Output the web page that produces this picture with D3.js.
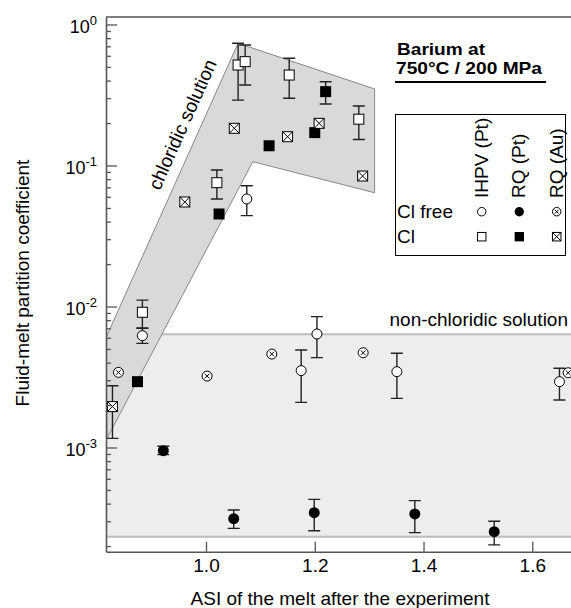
<!DOCTYPE html>
<html>
<head>
<meta charset="utf-8">
<script src="https://cdn.jsdelivr.net/npm/d3@7"></script>
<style>
  body { margin: 0; background: #fff; }
  text { font-family: "Liberation Sans", Arial, Helvetica, sans-serif; fill: #000; }
</style>
</head>
<body>
<script>
// chart size
var width = 571;
var height = 608;

// data: ASI of the melt (x) and Fluid-melt partition coefficient (y), error bars lo/hi
// IHPV (Pt), Cl free  -> open circles
var ihpvFreeX  = [1.075, 0.883, 1.175, 1.204, 1.351, 1.650];
var ihpvFreeY  = [0.0579, 0.00621, 0.00351, 0.00638, 0.00345, 0.00293];
var ihpvFreeLo = [0.0441, 0.00548, 0.00209, 0.00434, 0.00223, 0.00217];
var ihpvFreeHi = [0.0719, 0.0070, 0.00491, 0.00847, 0.00466, 0.00365];

// IHPV (Pt), Cl -> open squares
var ihpvClX  = [1.059, 1.072, 1.153, 1.281, 1.020, 0.883];
var ihpvClY  = [0.516, 0.545, 0.438, 0.213, 0.0755, 0.0091];
var ihpvClLo = [0.291, 0.372, 0.300, 0.153, 0.0579, 0.00704];
var ihpvClHi = [0.736, 0.716, 0.576, 0.264, 0.0929, 0.0111];

// RQ (Pt), Cl free -> filled circles
var rqPtFreeX  = [0.9215, 1.051, 1.199, 1.384, 1.530];
var rqPtFreeY  = [0.000949, 0.000313, 0.000345, 0.000338, 0.000253];
var rqPtFreeLo = [0.00089, 0.000267, 0.000257, 0.000249, 0.000204];
var rqPtFreeHi = [0.00102, 0.000360, 0.000429, 0.000420, 0.000300];

// RQ (Pt), Cl -> filled squares
var rqPtClX  = [1.220, 1.200, 1.116, 1.024, 0.874];
var rqPtClY  = [0.334, 0.171, 0.138, 0.0453, 0.00293];
var rqPtClLo = [0.273, null, null, null, null];
var rqPtClHi = [0.393, null, null, null, null];

// RQ (Au), Cl free -> circle with x
var rqAuFreeX = [0.839, 1.002, 1.121, 1.289, 1.666];
var rqAuFreeY = [0.00341, 0.00321, 0.00460, 0.0047, 0.00339];

// RQ (Au), Cl -> square with x
var rqAuClX  = [1.208, 1.150, 1.052, 0.961, 1.288, 0.828];
var rqAuClY  = [0.199, 0.160, 0.1836, 0.0551, 0.0842, 0.00195];
var rqAuClLo = [null, null, null, null, null, 0.00116];
var rqAuClHi = [null, null, null, null, null, 0.00274];

// shaded fields
var chloridicField = [[0.816, 0.0060], [1.059, 0.736], [1.31, 0.349], [1.31, 0.0641], [1.086, 0.1064], [0.818, 0.00116]];
var nonChloridicBand = [0.000233, 0.00635];

// ticks
var xTicks = [1.0, 1.2, 1.4, 1.6];
var yMajor = [1, 0.1, 0.01, 0.001];
var yMajorExp = ["0", "-1", "-2", "-3"];

var plot = {left: 106, right: 571, top: 17, bottom: 551.7};

var svg = d3.select("body").append("svg")
  .attr("width", width)
  .attr("height", height);

var x = d3.scaleLinear().domain([0.8161, 1.6712]).range([plot.left, plot.right]);
var y = d3.scaleLog().domain([1.824e-4, 1.13]).range([plot.bottom, plot.top]);

svg.append("defs").append("clipPath").attr("id", "clip")
  .append("rect")
  .attr("x", plot.left).attr("y", plot.top)
  .attr("width", plot.right - plot.left).attr("height", plot.bottom - plot.top);

var area = svg.append("g").attr("clip-path", "url(#clip)");

// non-chloridic band
area.append("rect")
  .attr("x", plot.left)
  .attr("y", y(nonChloridicBand[1]))
  .attr("width", plot.right - plot.left)
  .attr("height", y(nonChloridicBand[0]) - y(nonChloridicBand[1]))
  .attr("fill", "#ededed");
nonChloridicBand.forEach(function(v) {
  area.append("line")
    .attr("x1", plot.left).attr("x2", plot.right)
    .attr("y1", y(v)).attr("y2", y(v))
    .attr("stroke", "#bdbdbd").attr("stroke-width", 2);
});

// chloridic field
area.append("path")
  .attr("d", d3.line().x(function(d) { return x(d[0]); }).y(function(d) { return y(d[1]); })(chloridicField) + "Z")
  .attr("fill", "#d9d9d9")
  .attr("stroke", "#888")
  .attr("stroke-width", 1);

// axes
var minor = [];
[1e-4, 1e-3, 1e-2, 1e-1].forEach(function(dec) {
  for (var k = 2; k <= 9; k++) {
    var v = k * dec;
    if (v > y.domain()[0] && v < y.domain()[1]) minor.push(v);
  }
});

svg.append("g")
  .attr("transform", "translate(" + plot.left + ",0)")
  .call(d3.axisLeft(y).tickValues(minor).tickSize(-5).tickSizeOuter(0).tickFormat(""))
  .call(function(g) { g.select(".domain").remove(); })
  .selectAll("line").attr("stroke", "#555").attr("stroke-width", 1.3);

var yAxis = svg.append("g")
  .attr("transform", "translate(" + plot.left + ",0)")
  .call(d3.axisLeft(y).tickValues(yMajor).tickSize(-11).tickSizeOuter(0).tickPadding(9).tickFormat(""));
yAxis.select(".domain").attr("stroke", "#555").attr("stroke-width", 1.6);
yAxis.selectAll(".tick line").attr("stroke", "#555").attr("stroke-width", 1.3);
yAxis.selectAll(".tick text")
  .attr("font-size", 18)
  .attr("dy", "0.45em")
  .each(function(d, i) {
    var t = d3.select(this);
    t.append("tspan").text("10");
    t.append("tspan").attr("dy", -8).attr("font-size", 13).text(yMajorExp[i]);
  });

var xAxis = svg.append("g")
  .attr("transform", "translate(0," + plot.bottom + ")")
  .call(d3.axisBottom(x).tickValues(xTicks).tickSize(-10).tickSizeOuter(0).tickPadding(7).tickFormat(d3.format(".1f")));
xAxis.select(".domain").attr("stroke", "#555").attr("stroke-width", 1.6);
xAxis.selectAll(".tick line").attr("stroke", "#555").attr("stroke-width", 1.3);
xAxis.selectAll(".tick text").attr("font-size", 19);

// top frame
svg.append("line")
  .attr("x1", plot.left).attr("x2", plot.right)
  .attr("y1", plot.top).attr("y2", plot.top)
  .attr("stroke", "#555").attr("stroke-width", 1.6);

svg.selectAll(".domain").attr("fill", "none");
svg.selectAll(".tick text").attr("font-family", "Liberation Sans, Arial, sans-serif").attr("fill", "#000");

// field labels
var pA = [x(chloridicField[0][0]), y(chloridicField[0][1])];
var pB = [x(chloridicField[1][0]), y(chloridicField[1][1])];
var ang = Math.atan2(pB[1] - pA[1], pB[0] - pA[0]);
var t = 0.70;
var cx = pA[0] + (pB[0] - pA[0]) * t, cy = pA[1] + (pB[1] - pA[1]) * t;
var off = 11;
cx += off * Math.sin(ang); cy -= off * Math.cos(ang);
svg.append("text")
  .attr("transform", "translate(" + cx + "," + cy + ") rotate(" + (ang * 180 / Math.PI) + ")")
  .attr("text-anchor", "middle")
  .attr("font-size", 19)
  .text("chloridic solution");

svg.append("text")
  .attr("x", 568)
  .attr("y", y(nonChloridicBand[1]) - 8)
  .attr("text-anchor", "end")
  .attr("font-size", 19)
  .text("non-chloridic solution");

// markers
var mark = {
  openCircle: function(g, s) {
    g.append("circle").attr("r", 5 * s).attr("fill", "#fff").attr("stroke", "#000").attr("stroke-width", 1);
  },
  filledCircle: function(g, s) {
    g.append("circle").attr("r", 5.5 * s).attr("fill", "#000");
  },
  openSquare: function(g, s) {
    var h = 5 * s;
    g.append("rect").attr("x", -h).attr("y", -h).attr("width", 2 * h).attr("height", 2 * h)
      .attr("fill", "#fff").attr("stroke", "#000").attr("stroke-width", 1);
  },
  filledSquare: function(g, s) {
    var h = 5.5 * s;
    g.append("rect").attr("x", -h).attr("y", -h).attr("width", 2 * h).attr("height", 2 * h).attr("fill", "#000");
  },
  crossCircle: function(g, s) {
    var r = 5 * s, c = 2.3 * s;
    g.append("circle").attr("r", r).attr("fill", "#fff").attr("stroke", "#000").attr("stroke-width", 1);
    g.append("path").attr("d", "M" + (-c) + "," + (-c) + "L" + c + "," + c + "M" + (-c) + "," + c + "L" + c + "," + (-c))
      .attr("stroke", "#000").attr("stroke-width", 1);
  },
  crossSquare: function(g, s) {
    var h = 5 * s;
    g.append("rect").attr("x", -h).attr("y", -h).attr("width", 2 * h).attr("height", 2 * h)
      .attr("fill", "#fff").attr("stroke", "#000").attr("stroke-width", 1);
    g.append("path").attr("d", "M" + (-h) + "," + (-h) + "L" + h + "," + h + "M" + (-h) + "," + h + "L" + h + "," + (-h))
      .attr("stroke", "#000").attr("stroke-width", 1);
  }
};

var pts = area.append("g");

function drawSeries(xs, ys, los, his, type) {
  xs.forEach(function(xv, i) {
    var px = x(xv), py = y(ys[i]);
    if (los && los[i] != null) {
      var y1 = y(los[i]), y2 = y(his[i]), cw = 6;
      pts.append("path")
        .attr("d", "M" + px + "," + y1 + "V" + y2 + "M" + (px - cw) + "," + y1 + "H" + (px + cw) + "M" + (px - cw) + "," + y2 + "H" + (px + cw))
        .attr("stroke", "#222").attr("stroke-width", 1.4).attr("fill", "none");
    }
    var g = pts.append("g").attr("transform", "translate(" + px + "," + py + ")");
    mark[type](g, 1);
  });
}

drawSeries(ihpvFreeX, ihpvFreeY, ihpvFreeLo, ihpvFreeHi, "openCircle");
drawSeries(ihpvClX, ihpvClY, ihpvClLo, ihpvClHi, "openSquare");
drawSeries(rqPtFreeX, rqPtFreeY, rqPtFreeLo, rqPtFreeHi, "filledCircle");
drawSeries(rqPtClX, rqPtClY, rqPtClLo, rqPtClHi, "filledSquare");
drawSeries(rqAuFreeX, rqAuFreeY, null, null, "crossCircle");
drawSeries(rqAuClX, rqAuClY, rqAuClLo, rqAuClHi, "crossSquare");

// title (two tight lines, stretched to the reference width)
svg.append("text").attr("x", 397).attr("y", 54.5).attr("font-size", 17).attr("font-weight", "bold")
  .attr("textLength", 88).attr("lengthAdjust", "spacingAndGlyphs").text("Barium at");
svg.append("text").attr("x", 396).attr("y", 74).attr("font-size", 17).attr("font-weight", "bold")
  .attr("textLength", 146).attr("lengthAdjust", "spacingAndGlyphs").text("750°C / 200 MPa");
svg.append("line").attr("x1", 395).attr("x2", 546).attr("y1", 82).attr("y2", 82)
  .attr("stroke", "#000").attr("stroke-width", 2.2);

// legend
var legendCols = ["IHPV (Pt)", "RQ (Pt)", "RQ (Au)"];
var legendRows = ["Cl free", "Cl"];
var legendTypes = [["openCircle", "filledCircle", "crossCircle"], ["openSquare", "filledSquare", "crossSquare"]];

var lg = svg.append("g");
lg.append("rect").attr("x", 395.5).attr("y", 114.5).attr("width", 170).attr("height", 141)
  .attr("fill", "#fff").attr("stroke", "#000").attr("stroke-width", 1);
var colX = [481.7, 519.3, 556.7];
var rowY = [211.7, 236.7];
legendCols.forEach(function(c, i) {
  lg.append("text")
    .attr("transform", "translate(" + (colX[i] + 6) + ",198) rotate(-90)")
    .attr("font-size", 19)
    .text(c);
});
legendRows.forEach(function(r, j) {
  lg.append("text").attr("x", 397).attr("y", rowY[j] + 6.5).attr("font-size", 19).text(r);
  legendTypes[j].forEach(function(tp, i) {
    var g = lg.append("g").attr("transform", "translate(" + colX[i] + "," + rowY[j] + ")");
    mark[tp](g, 0.85);
  });
});

// axis titles
svg.append("text")
  .attr("transform", "translate(29,283) rotate(-90)")
  .attr("text-anchor", "middle")
  .attr("font-size", 19)
  .text("Fluid-melt partition coefficient");

svg.append("text")
  .attr("x", 340).attr("y", 605)
  .attr("text-anchor", "middle")
  .attr("font-size", 19)
  .text("ASI of the melt after the experiment");
</script>
</body>
</html>
